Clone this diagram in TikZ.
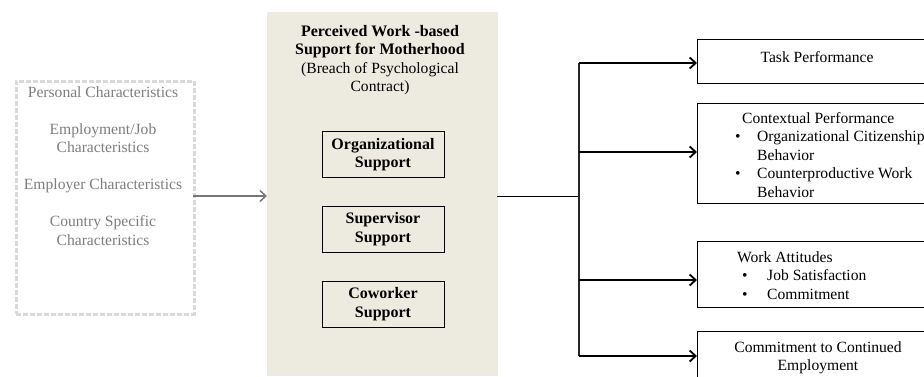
\documentclass[tikz,border=0pt]{standalone}
\usepackage{fontspec}
\setmainfont{Liberation Serif}
\usetikzlibrary{arrows.meta}
\definecolor{panelbg}{RGB}{237,235,224}
\definecolor{dashgray}{RGB}{217,217,217}
\definecolor{txtgray}{RGB}{125,125,125}
\definecolor{arrgray}{RGB}{120,120,120}
\tikzset{
  txt/.style={inner sep=0pt, font=\fontsize{15.6}{18.5}\selectfont},
  outbox/.style={draw=black, line width=0.9pt},
  inbox/.style={draw=black, line width=0.9pt, minimum width=122pt, minimum height=46pt, inner sep=0pt, align=center, font=\fontsize{16}{18.5}\selectfont\bfseries},
  outarrow/.style={line width=1.8pt, -{Straight Barb[length=6pt,width=11pt,line width=1.8pt]}},
  grayarrow/.style={draw=arrgray, line width=1.8pt, -{Straight Barb[length=6pt,width=11pt,line width=1.5pt]}},
}
\begin{document}
\begin{tikzpicture}[x=1pt,y=-1pt]
\useasboundingbox (0,0) rectangle (924,376);
\clip (0,0) rectangle (924,376);

% dashed source box
\node[draw=dashgray, line width=2.6pt, dash pattern=on 5pt off 2pt, minimum width=178pt, minimum height=233pt, inner sep=0pt, anchor=north west] (src) at (15,80) {};
\coordinate (srcE) at (193,196);
\node[txt, text=txtgray, anchor=base] (srctxt) at (103,97) {\begin{tabular}[t]{@{}c@{}}
Personal Characteristics\\[18.5pt]
Employment/Job\\ Characteristics\\[18.5pt]
Employer Characteristics\\[18.5pt]
Country Specific\\ Characteristics
\end{tabular}};

% panel
\node[fill=panelbg, inner sep=0pt, minimum width=231pt, minimum height=364pt, anchor=north west] (panel) at (267,12) {};
\node[txt, anchor=base] (ptitle) at (380,36) {\begin{tabular}[t]{@{}c@{}}
{\fontsize{16}{18.5}\selectfont\bfseries Perceived Work -based}\\
{\fontsize{16}{18.5}\selectfont\bfseries Support for Motherhood}\\
(Breach of Psychological\\
Contract)
\end{tabular}};

\node[inbox] (org) at (383,154.5) {Organizational\\Support};
\node[inbox] (sup) at (383,229) {Supervisor\\Support};
\node[inbox] (cow) at (383,304) {Coworker\\Support};

% gray arrow
\coordinate (panelW) at (267,196);
\draw[grayarrow] (srcE) -- (panelW);

% outcome boxes
\node[outbox, minimum width=240pt, minimum height=44pt, inner sep=0pt, anchor=north west] (task) at (697,39) {};
\node[outbox, minimum width=240pt, minimum height=100pt, inner sep=0pt, anchor=north west] (ctx) at (697,103) {};
\node[outbox, minimum width=240pt, minimum height=66pt, inner sep=0pt, anchor=north west] (att) at (697,241) {};
\node[outbox, minimum width=240pt, minimum height=46pt, inner sep=0pt, anchor=north west] (emp) at (697,331) {};

\node[txt, anchor=base] (tasktxt) at (817,62) {Task Performance};
\node[txt, anchor=base west] (ctxtxt) at (735,123) {\begin{tabular}[t]{@{}p{22pt}@{}l@{}}
\multicolumn{2}{@{}l@{}}{\hspace{7pt}Contextual Performance}\\
\textbullet & Organizational Citizenship\\
 & Behavior\\
\textbullet & Counterproductive Work\\
 & Behavior
\end{tabular}};
\node[txt, anchor=base west] (atttxt) at (737,262) {\begin{tabular}[t]{@{}p{30pt}@{}l@{}}
\multicolumn{2}{@{}l@{}}{Work Attitudes}\\
\hspace{5pt}\textbullet & Job Satisfaction\\
\hspace{5pt}\textbullet & Commitment
\end{tabular}};
\node[txt, anchor=base] (emptxt) at (818,352) {\begin{tabular}[t]{@{}c@{}}
Commitment to Continued\\
Employment
\end{tabular}};

% connectors
\coordinate (panelE) at (497,196);
\coordinate (split) at (579,196);
\coordinate (vtop) at (579,63);
\coordinate (vbot) at (579,356);
\coordinate (b2) at (579,152);
\coordinate (b3) at (579,280);
\draw[line width=0.9pt] (panelE) -- (split);
\draw[line width=1.4pt, draw=black!85] (vtop) -- (vbot);
\draw[outarrow] (vtop) -- (task.west |- vtop);
\draw[outarrow] (b2) -- (ctx.west |- b2);
\draw[outarrow] (b3) -- (att.west |- b3);
\draw[outarrow] (vbot) -- (emp.west |- vbot);
\end{tikzpicture}
\end{document}
